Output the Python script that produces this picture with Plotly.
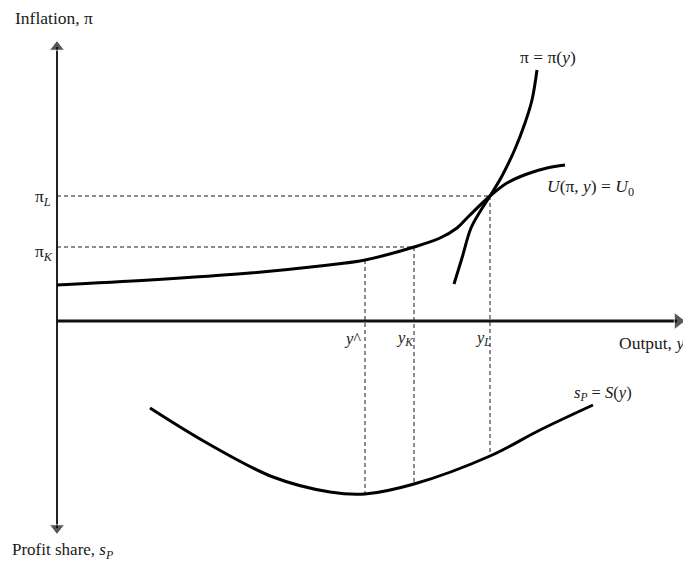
import plotly.graph_objects as go

# diagram units: x = output (origin at vertical axis), y = inflation (up) / profit share (down)
u_x = [0, 93, 193, 263, 308, 357, 383, 400, 412, 433, 450, 470, 490, 508]
u_y = [36, 41, 48, 55, 61, 74, 83, 93, 105, 125, 138, 147, 153, 156]

pi_x = [397, 405, 414, 424, 433, 445, 458, 468, 475, 480]
pi_y = [37, 63, 93, 111, 125, 145, 172, 198, 221, 251]

s_x = [93, 150, 216, 273, 308, 357, 433, 483, 536]
s_y = [-87, -122, -156, -171, -173, -163, -135, -109, -84]

y_hat, y_K, y_L = 308, 357, 433
pi_hat, pi_K, pi_L = 61, 74, 125
s_hat, s_K, s_L = -173, -163, -135

ink = "#1a1a1a"
serif = "Liberation Serif"

fig = go.Figure()

# axes
fig.add_trace(go.Scatter(x=[0, 0], y=[274, -207], mode="lines",
                         line=dict(color="#222", width=2), hoverinfo="skip"))
fig.add_trace(go.Scatter(x=[0, 620], y=[0, 0], mode="lines",
                         line=dict(color="#111", width=3), hoverinfo="skip"))
fig.add_trace(go.Scatter(x=[0, 0, 621], y=[274, -207, 0], mode="markers",
                         marker=dict(symbol=["triangle-up", "triangle-down", "triangle-right"],
                                     size=[13, 13, 15], color="#111"),
                         hoverinfo="skip"))

# guide lines
dash = dict(color=ink, width=1, dash="4px,3px")
fig.add_trace(go.Scatter(x=[0, y_L], y=[pi_L, pi_L], mode="lines", line=dash))
fig.add_trace(go.Scatter(x=[0, y_K], y=[pi_K, pi_K], mode="lines", line=dash))
fig.add_trace(go.Scatter(x=[y_hat, y_hat], y=[pi_hat, s_hat], mode="lines", line=dash))
fig.add_trace(go.Scatter(x=[y_K, y_K], y=[pi_K, s_K], mode="lines", line=dash))
fig.add_trace(go.Scatter(x=[y_L, y_L], y=[pi_L, s_L], mode="lines", line=dash))

# curves
curve = dict(color="#000", width=3, shape="spline", smoothing=1.0)
fig.add_trace(go.Scatter(x=u_x, y=u_y, mode="lines", line=curve))
fig.add_trace(go.Scatter(x=pi_x, y=pi_y, mode="lines", line=curve))
fig.add_trace(go.Scatter(x=s_x, y=s_y, mode="lines", line=curve))

labels = [
    (-44, 303, "Inflation, π", 17.5, "left"),
    (461, 264, "π = π(<i>y</i>)", 17.5, "left"),
    (488, 134, "<i>U</i>(π, <i>y</i>) = <i>U</i><sub>0</sub>", 17.5, "left"),
    (-24, 124, "π<sub><i>L</i></sub>", 17.5, "left"),
    (-24, 69, "π<sub><i>K</i></sub>", 17.5, "left"),
    (285, -17, "<i>y</i>^", 16.5, "left"),
    (337, -17, "<i>y<sub>K</sub></i>", 16.5, "left"),
    (416, -17, "<i>y<sub>L</sub></i>", 16.5, "left"),
    (560, -22, "Output, <i>y</i>", 17.5, "left"),
    (515, -72, "<i>s<sub>P</sub></i> = <i>S</i>(<i>y</i>)", 16.5, "left"),
    (-47, -230, "Profit share, <i>s<sub>P</sub></i>", 17, "left"),
]
for x, y, t, sz, anc in labels:
    fig.add_annotation(x=x, y=y, text=t, showarrow=False, xanchor=anc, yanchor="middle",
                       font=dict(family=serif, size=sz, color=ink))

# ranges offset by the page's 8px body margin
fig.update_layout(
    width=691, height=571, margin=dict(l=0, r=0, t=0, b=0),
    paper_bgcolor="white", plot_bgcolor="white", showlegend=False,
    xaxis=dict(range=[-49, 642], visible=False, fixedrange=True),
    yaxis=dict(range=[-258, 313], visible=False, fixedrange=True),
)

fig.write_html("out.html")
